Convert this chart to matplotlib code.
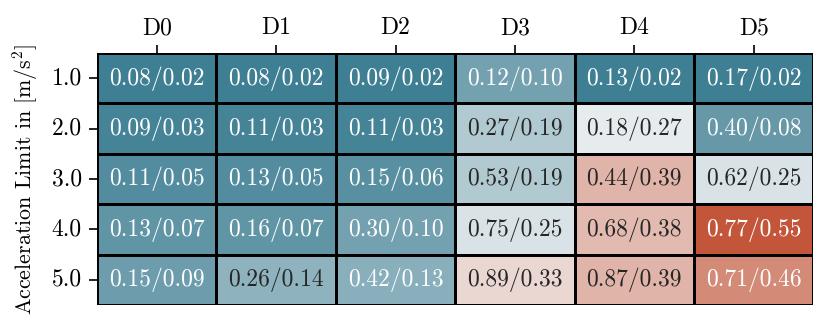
import matplotlib
matplotlib.use("Agg")
import matplotlib.pyplot as plt
import numpy as np
import seaborn as sns

plt.rcParams["font.family"] = ["cmr10", "DejaVu Serif"]
plt.rcParams["mathtext.fontset"] = "cm"
plt.rcParams["axes.formatter.use_mathtext"] = True

datasets = ["D0", "D1", "D2", "D3", "D4", "D5"]
acc_limits = ["1.0", "2.0", "3.0", "4.0", "5.0"]

# first value / second value per cell (rows = acceleration limit)
first_vals = np.array([
    [0.08, 0.08, 0.09, 0.12, 0.13, 0.17],
    [0.09, 0.11, 0.11, 0.27, 0.18, 0.40],
    [0.11, 0.13, 0.15, 0.53, 0.44, 0.62],
    [0.13, 0.16, 0.30, 0.75, 0.68, 0.77],
    [0.15, 0.26, 0.42, 0.89, 0.87, 0.71],
])
second_vals = np.array([
    [0.02, 0.02, 0.02, 0.10, 0.02, 0.02],
    [0.03, 0.03, 0.03, 0.19, 0.27, 0.08],
    [0.05, 0.05, 0.06, 0.19, 0.39, 0.25],
    [0.07, 0.07, 0.10, 0.25, 0.38, 0.55],
    [0.09, 0.14, 0.13, 0.33, 0.39, 0.46],
])

labels = np.array([[f"{a:.2f}/{b:.2f}" for a, b in zip(ra, rb)]
                   for ra, rb in zip(first_vals, second_vals)])

fig = plt.figure(figsize=(8.3, 3.22), dpi=100)
ax = fig.add_axes([0.117, 0.053, 0.863, 0.782])

cmap = sns.diverging_palette(220, 20, as_cmap=True)
sns.heatmap(second_vals, ax=ax, cmap=cmap, annot=labels, fmt="",
            cbar=False, linewidths=0.8, linecolor="black",
            annot_kws={"fontsize": 17},
            xticklabels=datasets, yticklabels=acc_limits)

ax.xaxis.tick_top()
ax.tick_params(axis="both", labelsize=17, length=6, width=1.2, pad=5)
ax.tick_params(axis="x", top=True, bottom=False, pad=4)
plt.setp(ax.get_yticklabels(), rotation=0)
ax.set_ylabel("Acceleration Limit in [m/s$^2$]", fontsize=15.8)
ax.yaxis.set_label_coords(-0.08, 0.5)

fig.savefig("out.png", dpi=100)
